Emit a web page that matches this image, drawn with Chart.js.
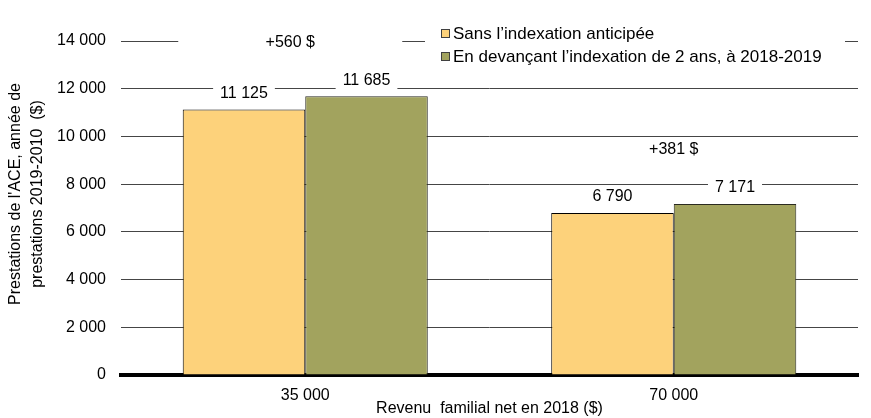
<!DOCTYPE html>
<html>
<head>
<meta charset="utf-8">
<script src="https://cdn.jsdelivr.net/npm/chart.js@4/dist/chart.umd.min.js"></script>
<style>
  html, body { margin: 0; padding: 0; background: #fff; }
  #wrap { width: 871px; height: 418px; position: relative; }
</style>
</head>
<body>
<div id="wrap"><canvas id="ace-chart"></canvas></div>
<script>
// Prestations de l'ACE selon le revenu familial

const categories = ['35 000', '70 000'];
const seriesNames = [
  'Sans l\u2019indexation anticip\u00e9e',
  'En devan\u00e7ant l\u2019indexation de 2 ans, \u00e0 2018-2019'
];
const sansIndexation = [11125, 6790];
const avecIndexation = [11685, 7171];
const yMax = 14000;
const yStep = 2000;
const yTitle = ['Prestations de l\'ACE, ann\u00e9e de', 'prestations 2019-2010  ($)'];

const FONT = '"Liberation Sans", Arial, sans-serif';

// 14000 -> "14 000"
function fmt(n) {
  return String(n).replace(/\B(?=(\d{3})+(?!\d))/g, ' ');
}

// labels with a white box behind them (they cut the gridlines like the original)
const labelPlugin = {
  id: 'barLabels',
  afterDatasetsDraw(chart) {
    const ctx = chart.ctx;
    const area = chart.chartArea;
    ctx.save();
    ctx.font = '16px ' + FONT;
    ctx.textAlign = 'center';
    ctx.textBaseline = 'middle';

    chart.data.datasets.forEach((ds, i) => {
      chart.getDatasetMeta(i).data.forEach((bar, j) => {
        const txt = fmt(ds.data[j]);
        const w = ctx.measureText(txt).width + 14;
        const y = bar.y - 16;
        ctx.fillStyle = '#fff';
        ctx.fillRect(bar.x - w / 2, y - 9, w, 18);
        ctx.fillStyle = '#000';
        ctx.fillText(txt, bar.x, y);
      });
    });

    // difference between the two series
    const m0 = chart.getDatasetMeta(0);
    const m1 = chart.getDatasetMeta(1);
    const shift = [-15, 0];
    categories.forEach((c, j) => {
      const diff = avecIndexation[j] - sansIndexation[j];
      const x = chart.scales.x.getPixelForValue(j) + shift[j];
      const y = Math.min(m0.data[j].y, m1.data[j].y) - 55;
      ctx.fillStyle = '#fff';
      ctx.fillRect(x - 112, y - 9, 224, 18);
      ctx.fillStyle = '#000';
      ctx.fillText('+' + fmt(diff) + ' $', x, y + 1);
    });

    // legend box
    const lx = area.left + 304;
    const ly = area.top - 23;
    ctx.fillStyle = '#fff';
    ctx.fillRect(lx, ly, 420, 52);
    ctx.textAlign = 'left';
    ctx.font = '17px ' + FONT;
    chart.data.datasets.forEach((ds, i) => {
      const cy = ly + 15 + i * 23;
      ctx.fillStyle = ds.backgroundColor;
      ctx.fillRect(lx + 16, cy - 4, 9, 9);
      ctx.strokeStyle = '#404040';
      ctx.lineWidth = 1;
      ctx.strokeRect(lx + 16.5, cy - 3.5, 8, 8);
      ctx.fillStyle = '#000';
      ctx.fillText(ds.label, lx + 28, cy + 1);
    });

    // y axis title, two lines
    ctx.translate(0, area.top + 153);
    ctx.rotate(-Math.PI / 2);
    ctx.textAlign = 'center';
    ctx.font = '16px ' + FONT;
    ctx.fillText(yTitle[0], 0, 16);
    ctx.fillText(yTitle[1], 0, 38);
    ctx.restore();
  }
};

new Chart(document.getElementById('ace-chart'), {
  type: 'bar',
  data: {
    labels: categories,
    datasets: [
      {
        label: seriesNames[0],
        data: sansIndexation,
        backgroundColor: '#FDD27B',
        borderColor: '#000',
        borderWidth: 1
      },
      {
        label: seriesNames[1],
        data: avecIndexation,
        backgroundColor: '#A2A35E',
        borderColor: '#2a2a20',
        borderWidth: 1
      }
    ]
  },
  options: {
    responsive: true,
    maintainAspectRatio: false,
    animation: false,
    layout: { padding: { left: 0, right: 13, top: 41, bottom: 0 } },
    datasets: {
      bar: { categoryPercentage: 0.665, barPercentage: 1 }
    },
    plugins: {
      legend: { display: false },
      tooltip: { enabled: false }
    },
    scales: {
      x: {
        z: 1,
        grid: { display: false, drawTicks: false },
        border: { display: true, color: '#000', width: 4 },
        ticks: { color: '#000', padding: 11, font: { family: FONT, size: 16 } },
        title: {
          display: true,
          text: 'Revenu  familial net en 2018 ($)',
          color: '#000',
          font: { family: FONT, size: 16 },
          padding: { top: -3, bottom: 0 }
        },
        afterFit(scale) { scale.height = 43; }
      },
      y: {
        min: 0,
        max: yMax,
        grid: { color: '#454545', lineWidth: 1, drawTicks: false },
        border: { display: false },
        ticks: {
          stepSize: yStep,
          color: '#000',
          padding: 15,
          font: { family: FONT, size: 16 },
          callback: v => fmt(v)
        },
        afterFit(scale) { scale.width = 121; }
      }
    }
  },
  plugins: [labelPlugin]
});
</script>
</body>
</html>
